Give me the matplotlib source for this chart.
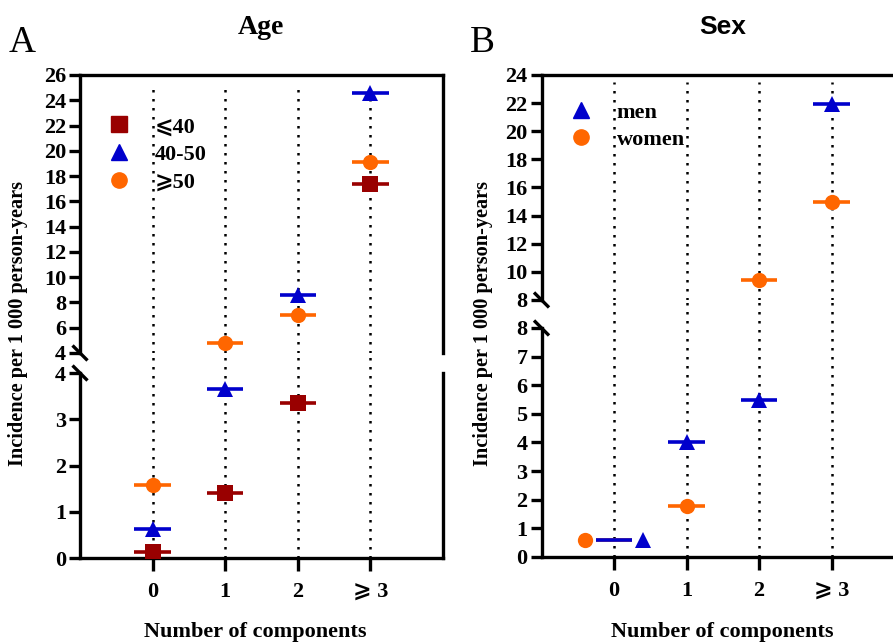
import numpy as np
import matplotlib
matplotlib.use("Agg")
import matplotlib.pyplot as plt
from matplotlib.lines import Line2D

plt.rcParams['font.family'] = ['Liberation Serif', 'DejaVu Sans']
plt.rcParams['font.weight'] = 'bold'

# data
components = ["0", "1", "2", "⩾ 3"]
x_pos = np.arange(len(components))

age_groups = ["⩽40", "40-50", "⩾50"]
age_le40 = [0.13, 1.41, 3.35, 17.4]
age_40_50 = [0.63, 3.65, 8.6, 24.55]
age_ge50 = [1.58, 4.8, 7.0, 19.1]

sex_groups = ["men", "women"]
sex_men = [0.58, 4.03, 5.5, 21.9]
sex_women = [0.58, 1.77, 9.4, 15.0]
# marker x offsets at "0" (points drawn beside each other there)
sex_men_dx = [0.4, 0, 0, 0]
sex_women_dx = [-0.4, 0, 0, 0]

RED = "#990000"
BLUE = "#0000CC"
ORANGE = "#FF6600"

LW = 2.4
TICKFS = 16


def style_axes(ax, part, ylim, gap=0.0):
    for s in ax.spines.values():
        s.set_linewidth(LW)
    ax.tick_params(axis='y', width=LW, length=8, labelsize=TICKFS, pad=2)
    ax.tick_params(axis='x', width=LW, length=9, labelsize=TICKFS, pad=8)
    ax.set_xlim(-1, 4)
    ax.set_ylim(*ylim)
    for x in x_pos:
        if part == 'upper':
            ax.axvline(x, ymax=0.97, color='black', lw=1.8, ls=(0, (1, 2.6)), zorder=1)
        else:
            ax.axvline(x, ymax=1 + gap, color='black', lw=1.8, ls=(0, (1, 2.6)),
                       zorder=1, clip_on=False)
    if part == 'upper':
        ax.spines['bottom'].set_visible(False)
        ax.set_xticks([])
    else:
        ax.spines['top'].set_visible(False)
        ax.set_xticks(x_pos)
        ax.set_xticklabels(components)


def break_marks(ax_up, ax_lo):
    kw = dict(color='black', lw=LW, clip_on=False, solid_capstyle='butt')
    # small "\" slashes at the left spine
    for ax, y0 in ((ax_up, 0.0), (ax_lo, 1.0)):
        h = 15 / ax.bbox.height
        w = 15 / ax.bbox.width
        ax.plot([-w * 0.5, w * 0.5], [y0 + h * 0.5, y0 - h * 0.5],
                transform=ax.transAxes, **kw)


def plot_series(ax, vals, color, marker, ms, dx=None, zl=3):
    if dx is None:
        dx = [0] * len(vals)
    lo, hi = ax.get_ylim()
    for x, v, d in zip(x_pos, vals, dx):
        if not (lo <= v <= hi):
            continue
        ax.plot([x - 0.25, x + 0.25], [v, v], color=color, lw=2.6, zorder=zl + 1,
                solid_capstyle='butt')
        ax.plot(x + d, v, marker=marker, color=color, ms=ms, ls='none', zorder=zl,
                markeredgewidth=0)


fig = plt.figure(figsize=(8.93, 6.44), dpi=100)

# Panel A
axA_up = fig.add_axes([0.0896, 0.4519, 0.4065, 0.4317])
axA_lo = fig.add_axes([0.0896, 0.1335, 0.4065, 0.2873])
style_axes(axA_up, 'upper', (4, 26))
style_axes(axA_lo, 'lower', (0, 4), gap=(0.4519 - 0.4208) / 0.2873)
for ax in (axA_up, axA_lo):
    plot_series(ax, age_le40, RED, 's', 11)
    plot_series(ax, age_40_50, BLUE, '^', 12)
    plot_series(ax, age_ge50, ORANGE, 'o', 11)
axA_up.set_yticks(np.arange(4, 27, 2))
axA_lo.set_yticks(np.arange(0, 5, 1))

# Panel B
axB_up = fig.add_axes([0.6064, 0.5342, 0.406, 0.3494])
axB_lo = fig.add_axes([0.6064, 0.1351, 0.406, 0.3556])
style_axes(axB_up, 'upper', (8, 24))
style_axes(axB_lo, 'lower', (0, 8), gap=(0.5342 - 0.4907) / 0.3556)
for ax in (axB_up, axB_lo):
    plot_series(ax, sex_women, ORANGE, 'o', 11, sex_women_dx, zl=3)
    plot_series(ax, sex_men, BLUE, '^', 12, sex_men_dx, zl=5)
axB_up.set_yticks(np.arange(8, 25, 2))
axB_lo.set_yticks(np.arange(0, 9, 1))

break_marks(axA_up, axA_lo)
break_marks(axB_up, axB_lo)

# legends
leg_kw = dict(loc='upper left', frameon=False, prop={'size': TICKFS, 'weight': 'bold'},
              handlelength=1.0, handletextpad=1.1, borderaxespad=0, borderpad=0)
hA = [Line2D([], [], color=RED, marker='s', ls='none', ms=11),
      Line2D([], [], color=BLUE, marker='^', ls='none', ms=12),
      Line2D([], [], color=ORANGE, marker='o', ls='none', ms=11)]
axA_up.legend(hA, age_groups, bbox_to_anchor=(0.077, 0.85), labelspacing=0.33, **leg_kw)
hB = [Line2D([], [], color=BLUE, marker='^', ls='none', ms=12),
      Line2D([], [], color=ORANGE, marker='o', ls='none', ms=11)]
axB_up.legend(hB, sex_groups, bbox_to_anchor=(0.079, 0.878), labelspacing=0.3, **leg_kw)

# titles, labels
fig.text(261 / 893, 1 - 28 / 644, "Age", ha='center', va='center', fontsize=20,
         weight='bold')
fig.text(723 / 893, 1 - 27 / 644, "Sex", ha='center', va='center', fontsize=19,
         family='Liberation Sans', weight='bold')
fig.text(22 / 893, 1 - 43 / 644, "A", ha='center', va='center', fontsize=27, weight='normal')
fig.text(482 / 893, 1 - 43 / 644, "B", ha='center', va='center', fontsize=27, weight='normal')

for xp in (18, 483):
    fig.text(xp / 893, 1 - 324 / 644, "Incidence per 1 000 person-years", rotation=90,
             ha='center', va='center', fontsize=14.6)
for xp in (255, 722):
    fig.text(xp / 893, 1 - 632 / 644, "Number of components", ha='center', va='center',
             fontsize=16)

fig.savefig("out.png", dpi=100)
